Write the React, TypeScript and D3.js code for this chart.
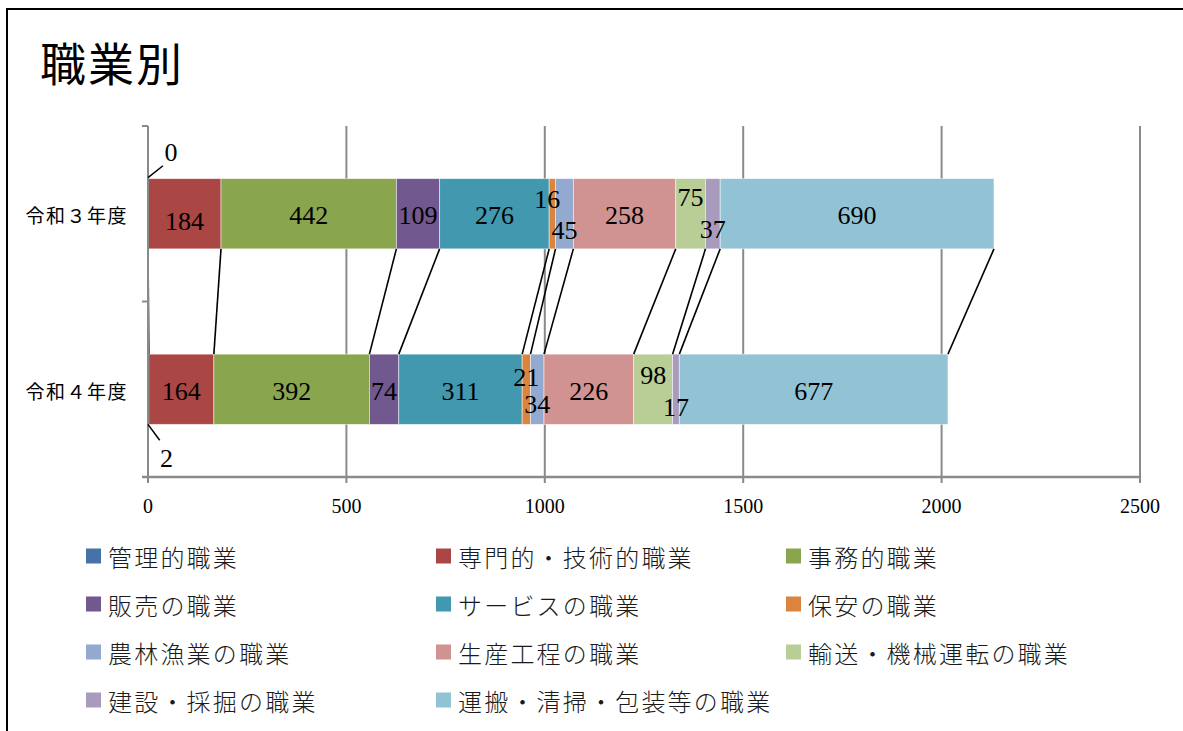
import React from "react";
import * as d3 from "d3";

const categories = ["令和３年度", "令和４年度"];
const seriesNames = [
  "管理的職業",
  "専門的・技術的職業",
  "事務的職業",
  "販売の職業",
  "サービスの職業",
  "保安の職業",
  "農林漁業の職業",
  "生産工程の職業",
  "輸送・機械運転の職業",
  "建設・採掘の職業",
  "運搬・清掃・包装等の職業",
];
const r3Values = [0, 184, 442, 109, 276, 16, 45, 258, 75, 37, 690];
const r4Values = [2, 164, 392, 74, 311, 21, 34, 226, 98, 17, 677];
const xTicks = [0, 500, 1000, 1500, 2000, 2500];
const colors = [
  "#4572A7",
  "#AA4643",
  "#89A54E",
  "#71588F",
  "#4198AF",
  "#DB843D",
  "#93A9CF",
  "#D19392",
  "#B9CD96",
  "#A99BBD",
  "#92C3D4",
];

// hand-moved data labels, as in the original sheet: [dx, dy, leader]
const labelNudges: Record<string, [number, number, boolean]> = {
  "0|0": [23, -63, true],
  "0|1": [0, 6, false],
  "0|5": [-5, -16, false],
  "0|6": [0, 15, false],
  "0|8": [0, -18, false],
  "0|9": [0, 14, false],
  "1|0": [18, 67, true],
  "1|5": [0, -14, false],
  "1|6": [0, 13, false],
  "1|8": [0, -16, false],
  "1|9": [0, 16, false],
};

const W = 1183;
const H = 731;
const plot = { left: 148, right: 1140, top: 126, bottom: 477 };
const serif = "'Liberation Serif', 'DejaVu Serif', serif";
const sans = "'Noto Sans CJK JP', 'Noto Sans', sans-serif";

export default function App() {
  const rows = categories.map((c, i) => {
    const vals = i === 0 ? r3Values : r4Values;
    const row: Record<string, any> = { cat: c };
    seriesNames.forEach((s, j) => (row[s] = vals[j]));
    return row;
  });

  const stacked = d3.stack<any>().keys(seriesNames)(rows);

  const x = d3.scaleLinear().domain([0, 2500]).range([plot.left, plot.right]);
  const y = d3
    .scaleBand()
    .domain(categories)
    .range([plot.top, plot.bottom])
    .paddingInner(0.6)
    .paddingOuter(0.3);
  const bw = y.bandwidth();

  const gridColor = "#8a8a8a";

  return (
    <svg
      width={W}
      height={H}
      style={{ position: "absolute", left: 0, top: 0, background: "#fff" }}
    >
      <rect x={7} y={9} width={W + 20} height={H + 20} fill="#fff" stroke="#000" strokeWidth={2} />
      <text x={40} y={81} fontFamily={sans} fontSize={46} letterSpacing={2} fill="#000">
        職業別
      </text>

      {/* grid */}
      {xTicks.slice(1).map((t) => (
        <line key={t} x1={x(t)} x2={x(t)} y1={plot.top} y2={plot.bottom} stroke={gridColor} strokeWidth={2} />
      ))}

      {/* bars */}
      {stacked.map((layer, k) =>
        layer.map((d, i) => (
          <rect
            key={`${k}-${i}`}
            x={x(d[0])}
            y={y(categories[i])}
            width={Math.max(0, x(d[1]) - x(d[0]))}
            height={bw}
            fill={colors[k]}
            stroke="rgba(255,255,255,0.6)"
            strokeWidth={0.8}
          />
        ))
      )}

      {/* series lines */}
      {stacked.map((layer, k) => (
        <line
          key={`sl-${k}`}
          x1={x(layer[0][1])}
          y1={(y(categories[0]) as number) + bw}
          x2={x(layer[1][1])}
          y2={y(categories[1]) as number}
          stroke="#000"
          strokeWidth={1.6}
        />
      ))}

      {/* axes */}
      <line x1={plot.left} x2={plot.left} y1={plot.top} y2={plot.bottom} stroke={gridColor} strokeWidth={2} />
      <line x1={plot.left - 6} x2={plot.right} y1={plot.bottom} y2={plot.bottom} stroke={gridColor} strokeWidth={2.5} />
      {[plot.top, (plot.top + plot.bottom) / 2, plot.bottom].map((ty) => (
        <line key={ty} x1={plot.left - 6} x2={plot.left} y1={ty} y2={ty} stroke={gridColor} strokeWidth={2} />
      ))}
      {xTicks.map((t) => (
        <g key={`t-${t}`}>
          <line x1={x(t)} x2={x(t)} y1={plot.bottom} y2={plot.bottom + 6} stroke={gridColor} strokeWidth={2} />
          <text
            x={x(t)}
            y={plot.bottom + 36}
            textAnchor="middle"
            fontFamily={serif}
            fontSize={20}
            fill="#000"
          >
            {t}
          </text>
        </g>
      ))}
      {categories.map((c) => (
        <text
          key={c}
          x={128}
          y={(y(c) as number) + bw / 2 + 1}
          textAnchor="end"
          dominantBaseline="central"
          fontFamily={sans}
          fontSize={19}
          letterSpacing={1.5}
          fill="#000"
        >
          {c}
        </text>
      ))}

      {/* data labels */}
      {stacked.map((layer, k) =>
        layer.map((d, i) => {
          const nudge = labelNudges[`${i}|${k}`] || [0, 0, false];
          const cx = (x(d[0]) + x(d[1])) / 2;
          const cy = (y(categories[i]) as number) + bw / 2 + 2;
          const lx = cx + nudge[0];
          const ly = cy + nudge[1];
          const val = d[1] - d[0];
          return (
            <g key={`l-${k}-${i}`}>
              {nudge[2] && (
                <line
                  x1={x(d[0])}
                  y1={i === 0 ? (y(categories[i]) as number) - 1 : (y(categories[i]) as number) + bw}
                  x2={x(d[0]) + nudge[0] * 0.65}
                  y2={i === 0 ? ly + 13 : ly - 18}
                  stroke="#000"
                  strokeWidth={1.5}
                />
              )}
              <text
                x={lx}
                y={ly}
                textAnchor="middle"
                dominantBaseline="central"
                fontFamily={serif}
                fontSize={26}
                fill="#000"
              >
                {val}
              </text>
            </g>
          );
        })
      )}

      {/* legend */}
      {seriesNames.map((s, j) => {
        const col = j % 3;
        const row = Math.floor(j / 3);
        const lx = 86 + col * 350;
        const ly = 556 + row * 48;
        return (
          <g key={`lg-${s}`}>
            <rect x={lx} y={ly - 7.5} width={15} height={15} fill={colors[j]} />
            <text
              x={lx + 22}
              y={ly}
              dominantBaseline="central"
              fontFamily={sans}
              fontSize={24}
              fontWeight={300}
              letterSpacing={2.2}
              fill="#1a1a1a"
            >
              {s}
            </text>
          </g>
        );
      })}
    </svg>
  );
}
